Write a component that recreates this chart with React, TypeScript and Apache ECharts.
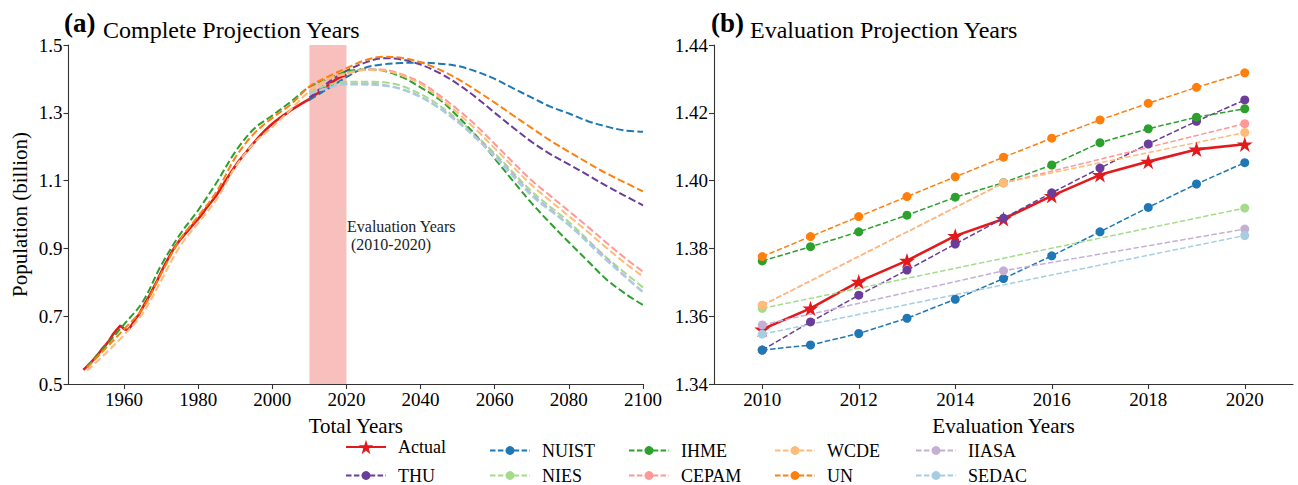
import React, { useEffect, useRef } from "react";
import * as echarts from "echarts";

// ---------- data ----------
const HIST_START = 1949;
const ACTUAL_HIST = [
  0.5417, 0.552, 0.563, 0.5748, 0.588, 0.6027, 0.6147, 0.6283, 0.6465, 0.6599,
  0.6721, 0.6621, 0.6586, 0.673, 0.6917, 0.705, 0.7254, 0.7454, 0.7637, 0.7853,
  0.8067, 0.8299, 0.8523, 0.8718, 0.8921, 0.9086, 0.9242, 0.9372, 0.9497, 0.9626,
  0.9754, 0.9871, 1.0007, 1.0165, 1.0301, 1.0436, 1.0585, 1.0751, 1.093, 1.1103,
  1.127, 1.1433, 1.1582, 1.1717, 1.1852, 1.1985, 1.2112, 1.2239, 1.2363, 1.2476,
  1.2579, 1.2674, 1.2763, 1.2845, 1.2923, 1.2999, 1.3076, 1.3145, 1.3213, 1.328,
  1.3345,
];
// actual 2010-2020 as drawn in panel (a)
const ACTUAL_LEFT_EVAL = [1.34, 1.348, 1.356, 1.364, 1.373, 1.381, 1.389, 1.397, 1.403, 1.408, 1.412];

const EVAL_YEARS = [2010, 2011, 2012, 2013, 2014, 2015, 2016, 2017, 2018, 2019, 2020];
const EVAL_YEARS_5 = [2010, 2015, 2020];
const EVAL_YEARS_10 = [2010, 2020];

const ACTUAL_EVAL = [1.3561, 1.3623, 1.3702, 1.3764, 1.3837, 1.3887, 1.3955, 1.4017, 1.4056, 1.4092, 1.4107];
const THU_EVAL = [1.35, 1.3583, 1.3662, 1.3736, 1.3813, 1.3889, 1.3964, 1.4037, 1.4108, 1.4175, 1.4238];
const NUIST_EVAL = [1.35, 1.3515, 1.3549, 1.3594, 1.365, 1.3711, 1.3778, 1.3849, 1.3921, 1.399, 1.4053];
const IHME_EVAL = [1.3763, 1.3805, 1.3849, 1.3898, 1.3951, 1.3994, 1.4046, 1.4112, 1.4153, 1.4187, 1.4212];
const UN_EVAL = [1.3776, 1.3835, 1.3894, 1.3953, 1.4011, 1.4069, 1.4125, 1.4179, 1.4228, 1.4275, 1.4318];
const WCDE_EVAL = [1.3632, 1.3993, 1.4142];
const CEPAM_EVAL = [1.3632, 1.3993, 1.4168];
const IIASA_EVAL = [1.3574, 1.3734, 1.3857];
const NIES_EVAL = [1.3623, 1.3919];
const SEDAC_EVAL = [1.3547, 1.3838];

const HIST_YEARS_5 = [1950, 1955, 1960, 1965, 1970, 1975, 1980, 1985, 1990, 1995, 2000, 2005];
const PROJ_YEARS_5 = [2010, 2015, 2020, 2025, 2030, 2035, 2040, 2045, 2050, 2055, 2060, 2065, 2070, 2075, 2080, 2085, 2090, 2095, 2100];
const PROJ_YEARS_10 = [2010, 2020, 2030, 2040, 2050, 2060, 2070, 2080, 2090, 2100];

const UN_HIST = [0.548, 0.605, 0.662, 0.722, 0.825, 0.925, 0.995, 1.068, 1.168, 1.238, 1.285, 1.325];
const IHME_HIST = [0.552, 0.612, 0.676, 0.742, 0.85, 0.94, 1.013, 1.095, 1.185, 1.252, 1.292, 1.333];
const WCDE_HIST = [0.54, 0.59, 0.645, 0.708, 0.805, 0.905, 0.975, 1.045, 1.14, 1.21, 1.258, 1.31];

const THU_PROJ = [1.345, 1.3889, 1.4238, 1.448, 1.461, 1.457, 1.442, 1.418, 1.385, 1.345, 1.3, 1.256, 1.214, 1.178, 1.148, 1.117, 1.085, 1.056, 1.027];
const NUIST_PROJ = [1.338, 1.3711, 1.4053, 1.433, 1.443, 1.447, 1.448, 1.445, 1.438, 1.422, 1.4, 1.372, 1.345, 1.318, 1.298, 1.276, 1.26, 1.248, 1.244];
const UN_PROJ = [1.3776, 1.4069, 1.4318, 1.455, 1.465, 1.462, 1.449, 1.428, 1.4, 1.366, 1.33, 1.292, 1.255, 1.218, 1.185, 1.153, 1.122, 1.095, 1.068];
const IHME_PROJ = [1.3763, 1.3994, 1.4212, 1.428, 1.424, 1.405, 1.375, 1.34, 1.29, 1.232, 1.165, 1.098, 1.033, 0.974, 0.918, 0.864, 0.81, 0.768, 0.733];
const WCDE_PROJ = [1.3632, 1.3993, 1.4142, 1.426, 1.425, 1.41, 1.385, 1.345, 1.3, 1.25, 1.195, 1.14, 1.086, 1.04, 0.995, 0.95, 0.903, 0.858, 0.817];
const CEPAM_PROJ = [1.3632, 1.3993, 1.4168, 1.428, 1.427, 1.413, 1.39, 1.352, 1.31, 1.262, 1.208, 1.153, 1.1, 1.055, 1.01, 0.965, 0.918, 0.873, 0.831];
const IIASA_PROJ = [1.3574, 1.3734, 1.3857, 1.386, 1.382, 1.37, 1.348, 1.315, 1.275, 1.228, 1.175, 1.118, 1.06, 1.015, 0.97, 0.922, 0.872, 0.82, 0.772];
const NIES_PROJ = [1.3623, 1.3919, 1.39, 1.355, 1.28, 1.18, 1.068, 0.978, 0.875, 0.785];
const SEDAC_PROJ = [1.3547, 1.3838, 1.38, 1.346, 1.272, 1.17, 1.055, 0.968, 0.866, 0.77];

const LEFT_X_TICKS = [1960, 1980, 2000, 2020, 2040, 2060, 2080, 2100];
const LEFT_Y_TICKS = [0.5, 0.7, 0.9, 1.1, 1.3, 1.5];
const RIGHT_X_TICKS = [2010, 2012, 2014, 2016, 2018, 2020];
const RIGHT_Y_TICKS = [1.34, 1.36, 1.38, 1.4, 1.42, 1.44];

const COLORS: Record<string, string> = {
  Actual: "#e3191c",
  THU: "#6a3d9a",
  NUIST: "#1f77b4",
  NIES: "#a4dc8c",
  IHME: "#2ca02c",
  CEPAM: "#ff9896",
  WCDE: "#ffbb78",
  UN: "#ff7f0e",
  IIASA: "#c5b0d5",
  SEDAC: "#a6cee3",
};

const LEGEND_ROW1 = ["Actual", "NUIST", "IHME", "WCDE", "IIASA"];
const LEGEND_ROW2 = ["THU", "NIES", "CEPAM", "UN", "SEDAC"];

// ---------- helpers ----------
const FONT = '"Liberation Serif", "Times New Roman", serif';
const STAR = "path://M50,0L61.2,34.5L97.6,34.5L68.2,55.9L79.4,90.5L50,69.1L20.6,90.5L31.8,55.9L2.4,34.5L38.8,34.5Z";
const zip = (xs: number[], ys: number[]) => xs.map((x, i) => [x, ys[i]]);

function buildOption() {
  const evalSeries = (name: string, xs: number[], ys: number[]) => ({
    name,
    type: "line",
    xAxisIndex: 1,
    yAxisIndex: 1,
    data: zip(xs, ys),
    symbol: name === "Actual" ? STAR : "circle",
    symbolKeepAspect: true,
    symbolSize: name === "Actual" ? 16 : 9,
    color: COLORS[name],
    lineStyle: name === "Actual"
      ? { width: 2.6, type: "solid", color: COLORS[name] }
      : { width: 1.5, type: [5.5, 2.4], color: COLORS[name] },
    itemStyle: { color: COLORS[name] },
    emphasis: { disabled: true },
    silent: true,
  });

  const projSeries = (name: string, data: number[][], extra: any = {}) => ({
    name,
    type: "line",
    xAxisIndex: 0,
    yAxisIndex: 0,
    data,
    symbol: "none",
    showSymbol: false,
    smooth: name === "Actual" ? false : 0.35,
    color: COLORS[name],
    lineStyle: name === "Actual"
      ? { width: 2.6, type: "solid", color: COLORS[name] }
      : { width: 2, type: [7.4, 3.2], color: COLORS[name] },
    emphasis: { disabled: true },
    silent: true,
    ...extra,
  });

  const actualLeft = [
    ...ACTUAL_HIST.map((v, i) => [HIST_START + i, v]),
    ...zip(EVAL_YEARS, ACTUAL_LEFT_EVAL),
  ];

  const series: any[] = [
    evalSeries("Actual", EVAL_YEARS, ACTUAL_EVAL),
    evalSeries("THU", EVAL_YEARS, THU_EVAL),
    evalSeries("NUIST", EVAL_YEARS, NUIST_EVAL),
    evalSeries("NIES", EVAL_YEARS_10, NIES_EVAL),
    evalSeries("IHME", EVAL_YEARS, IHME_EVAL),
    evalSeries("CEPAM", EVAL_YEARS_5, CEPAM_EVAL),
    evalSeries("WCDE", EVAL_YEARS_5, WCDE_EVAL),
    evalSeries("UN", EVAL_YEARS, UN_EVAL),
    evalSeries("IIASA", EVAL_YEARS_5, IIASA_EVAL),
    evalSeries("SEDAC", EVAL_YEARS_10, SEDAC_EVAL),

    projSeries("Actual", actualLeft, {
      markArea: {
        silent: true,
        itemStyle: { color: "#f8c0bd", opacity: 1 },
        label: { show: false },
        data: [[{ xAxis: 2010 }, { xAxis: 2020 }]],
      },
    }),
    projSeries("THU", zip(PROJ_YEARS_5, THU_PROJ)),
    projSeries("NUIST", zip(PROJ_YEARS_5, NUIST_PROJ)),
    projSeries("NIES", zip(PROJ_YEARS_10, NIES_PROJ)),
    projSeries("IHME", [...zip(HIST_YEARS_5, IHME_HIST), ...zip(PROJ_YEARS_5, IHME_PROJ)]),
    projSeries("CEPAM", zip(PROJ_YEARS_5, CEPAM_PROJ)),
    projSeries("WCDE", [...zip(HIST_YEARS_5, WCDE_HIST), ...zip(PROJ_YEARS_5, WCDE_PROJ)]),
    projSeries("UN", [...zip(HIST_YEARS_5, UN_HIST), ...zip(PROJ_YEARS_5, UN_PROJ)]),
    projSeries("IIASA", zip(PROJ_YEARS_5, IIASA_PROJ)),
    projSeries("SEDAC", zip(PROJ_YEARS_10, SEDAC_PROJ)),
  ];

  const axisCommon = {
    axisLine: { show: true, lineStyle: { color: "#333", width: 1.1 } },
    axisTick: { show: true, inside: false, length: 5, lineStyle: { color: "#333", width: 1.1 } },
    splitLine: { show: false },
    nameTextStyle: { fontFamily: FONT, fontSize: 21, color: "#000" },
  };

  const labelStyle = { fontFamily: FONT, fontSize: 19, color: "#000" };

  const xAxis = [
    {
      type: "value",
      gridIndex: 0,
      min: 1945,
      max: 2100,
      name: "Total Years",
      nameLocation: "middle",
      nameGap: 31,
      ...axisCommon,
      axisTick: { ...axisCommon.axisTick, customValues: LEFT_X_TICKS },
      axisLabel: { ...labelStyle, margin: 6, customValues: LEFT_X_TICKS, formatter: (v: number) => String(v) },
    },
    {
      type: "value",
      gridIndex: 1,
      min: 2009,
      max: 2021,
      name: "Evaluation Years",
      nameLocation: "middle",
      nameGap: 31,
      ...axisCommon,
      axisTick: { ...axisCommon.axisTick, customValues: RIGHT_X_TICKS },
      axisLabel: { ...labelStyle, margin: 6, customValues: RIGHT_X_TICKS, formatter: (v: number) => String(v) },
    },
  ];

  const yAxis = [
    {
      type: "value",
      gridIndex: 0,
      min: 0.5,
      max: 1.5,
      name: "Population (billion)",
      nameLocation: "middle",
      nameGap: 38,
      ...axisCommon,
      axisTick: { ...axisCommon.axisTick, customValues: LEFT_Y_TICKS },
      axisLabel: { ...labelStyle, margin: 6, customValues: LEFT_Y_TICKS, formatter: (v: number) => v.toFixed(1) },
    },
    {
      type: "value",
      gridIndex: 1,
      min: 1.34,
      max: 1.44,
      ...axisCommon,
      axisTick: { ...axisCommon.axisTick, customValues: RIGHT_Y_TICKS },
      axisLabel: { ...labelStyle, margin: 6, customValues: RIGHT_Y_TICKS, formatter: (v: number) => v.toFixed(2) },
    },
  ];

  const textX = [397, 541, 680, 826, 967];
  const legends: any[] = [];
  const addLegend = (name: string, col: number, centerY: number) => {
    const h = name === "Actual" ? 18 : 11;
    legends.push({
      show: true,
      orient: "horizontal",
      left: textX[col] - 52,
      top: centerY - h / 2,
      padding: 0,
      itemWidth: 40,
      itemHeight: h,
      selectedMode: false,
      data: [name],
      textStyle: { fontFamily: FONT, fontSize: 18, lineHeight: h, color: "#000", padding: [0, 0, 0, 7] },
    });
  };
  LEGEND_ROW1.forEach((n, i) => addLegend(n, i, 447));
  LEGEND_ROW2.forEach((n, i) => addLegend(n, i, 472));

  const graphic = [
    { type: "text", x: 64, y: 23, style: { text: "(a)", font: `bold 27px ${FONT}`, fill: "#000", verticalAlign: "middle" } },
    { type: "text", x: 103, y: 30, style: { text: "Complete Projection Years", font: `24px ${FONT}`, fill: "#000", verticalAlign: "middle" } },
    { type: "text", x: 711, y: 23, style: { text: "(b)", font: `bold 27px ${FONT}`, fill: "#000", verticalAlign: "middle" } },
    { type: "text", x: 750, y: 30, style: { text: "Evaluation Projection Years", font: `24px ${FONT}`, fill: "#000", verticalAlign: "middle" } },
    {
      type: "text",
      x: 347,
      y: 218,
      style: { text: "Evaluation Years\n (2010-2020)", font: `16px ${FONT}`, fill: "#222", lineHeight: 17.5, verticalAlign: "top" },
    },
  ];

  return {
    animation: false,
    backgroundColor: "#fff",
    grid: [
      { left: 68.5, right: 1298 - 643, top: 45, bottom: 101, containLabel: false },
      { left: 714, right: 5, top: 45, bottom: 101, containLabel: false },
    ],
    xAxis,
    yAxis,
    legend: legends,
    graphic,
    series,
  };
}

export default function App() {
  const ref = useRef<HTMLDivElement>(null);
  useEffect(() => {
    if (!ref.current) return;
    const chart = echarts.init(ref.current, undefined, { renderer: "svg" });
    chart.setOption(buildOption() as any);
    return () => chart.dispose();
  }, []);
  return (
    <div
      ref={ref}
      style={{ position: "fixed", left: 0, top: 0, width: 1298, height: 485, background: "#fff" }}
    />
  );
}
